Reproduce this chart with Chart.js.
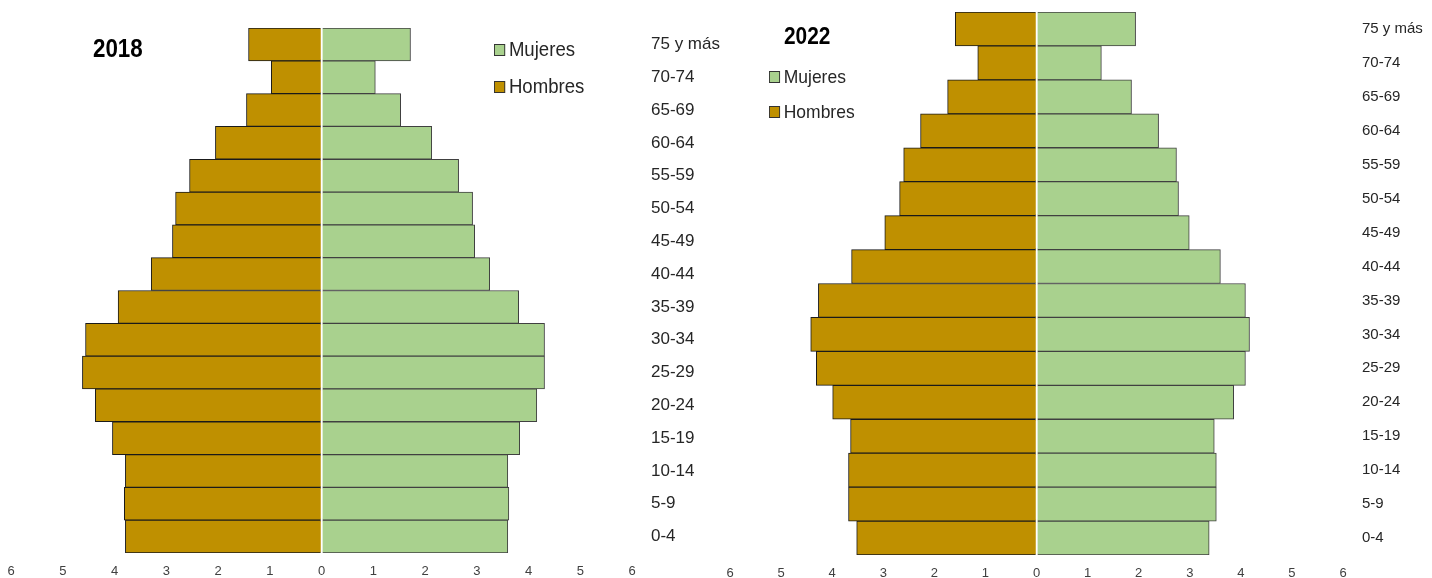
<!DOCTYPE html>
<html lang="es">
<head>
<meta charset="utf-8">
<title>Pirámide de población 2018 - 2022</title>
<script src="https://cdn.jsdelivr.net/npm/chart.js@4.4.1/dist/chart.umd.min.js"></script>
<style>
  body { margin: 0; background: #fff; width: 1432px; height: 578px; overflow: hidden; position: relative;
         font-family: 'Liberation Sans', Arial, sans-serif; }
  canvas { position: absolute; top: 0; }
  .titulo { position: absolute; font-weight: bold; line-height: 30px; color: #000; transform-origin: left center; }
  .leyenda { position: absolute; color: #262626; }
  .leyenda .fila { display: flex; align-items: center; transform-origin: left center; }
  .leyenda .caja { width: 10px; height: 10px; border: 1px solid #333; margin-right: 4px; }
</style>
</head>
<body>
<canvas id="pir2018" width="730" height="578" style="left:0"></canvas>
<canvas id="pir2022" width="716" height="578" style="left:716px"></canvas>
<div class="titulo" style="left:93px; top:33px; font-size:26px; transform:scaleX(0.86)">2018</div>
<div class="titulo" style="left:784px; top:21px; font-size:24px; transform:scaleX(0.87)">2022</div>
<div class="leyenda" id="ley2018" style="left:494px; top:31px; font-size:20px"></div>
<div class="leyenda" id="ley2022" style="left:769px; top:59px; font-size:19px"></div>
<script>
// Grupos de edad (de arriba hacia abajo)
const grupos = ['75 y más', '70-74', '65-69', '60-64', '55-59', '50-54', '45-49', '40-44',
                '35-39', '30-34', '25-29', '20-24', '15-19', '10-14', '5-9', '0-4'];

// Porcentaje de la población por sexo
const hombres2018 = [1.41, 0.97, 1.45, 2.05, 2.55, 2.82, 2.88, 3.29, 3.93, 4.56, 4.62, 4.37, 4.04, 3.79, 3.81, 3.79];
const mujeres2018 = [1.72, 1.04, 1.53, 2.13, 2.65, 2.92, 2.96, 3.25, 3.81, 4.31, 4.31, 4.16, 3.83, 3.60, 3.62, 3.60];
const hombres2022 = [1.59, 1.15, 1.74, 2.27, 2.60, 2.68, 2.97, 3.62, 4.27, 4.42, 4.31, 3.99, 3.64, 3.68, 3.68, 3.52];
const mujeres2022 = [1.94, 1.27, 1.86, 2.39, 2.74, 2.78, 2.99, 3.60, 4.09, 4.17, 4.09, 3.86, 3.48, 3.52, 3.52, 3.38];

// Series y colores de la leyenda
const series = ['Mujeres', 'Hombres'];
const colores = { Mujeres: '#A9D18E', Hombres: '#BF9000' };
const bordes = { Mujeres: '#404040', Hombres: '#1a1a1a' };
const limiteX = 6;

// Leyenda en HTML
function crearLeyenda(id, alto, escala) {
    const cont = document.getElementById(id);
    series.forEach(nombre => {
        const fila = document.createElement('div');
        fila.className = 'fila';
        fila.style.height = alto + 'px';
        fila.style.transform = 'scaleX(' + escala + ')';
        fila.innerHTML = '<span class="caja" style="background:' + colores[nombre] + '"></span>' + nombre;
        cont.appendChild(fila);
    });
}

function crearPiramide(canvasId, hombres, mujeres, cfg) {
    const ctx = document.getElementById(canvasId).getContext('2d');
    return new Chart(ctx, {
        type: 'bar',
        data: {
            labels: grupos,
            datasets: [
                {
                    label: 'Mujeres',
                    data: mujeres,
                    backgroundColor: colores.Mujeres,
                    borderColor: bordes.Mujeres,
                    borderWidth: 1
                },
                {
                    label: 'Hombres',
                    data: hombres.map(v => -v),
                    backgroundColor: colores.Hombres,
                    borderColor: bordes.Hombres,
                    borderWidth: 1
                }
            ]
        },
        options: {
            indexAxis: 'y',
            responsive: false,
            animation: false,
            devicePixelRatio: 1,
            barPercentage: 1,
            categoryPercentage: 1,
            layout: { padding: { left: cfg.padLeft, top: cfg.padTop, right: 0, bottom: 0 } },
            plugins: {
                legend: { display: false },
                tooltip: { enabled: false }
            },
            scales: {
                x: {
                    type: 'linear',
                    stacked: true,
                    min: -limiteX,
                    max: limiteX,
                    border: { display: false },
                    grid: {
                        z: 1,
                        drawTicks: false,
                        lineWidth: 1.5,
                        color: c => (c.tick && c.tick.value === 0) ? '#ffffff' : 'rgba(0,0,0,0)'
                    },
                    ticks: {
                        stepSize: 1,
                        padding: 11,
                        color: '#404040',
                        font: { family: "'Liberation Sans', sans-serif", size: 13 },
                        callback: v => Math.abs(v)
                    },
                    afterFit: s => {
                        s.height = cfg.axisHeight;
                        s.paddingLeft = 0;
                        s.paddingRight = 0;
                    }
                },
                y: {
                    type: 'category',
                    position: 'right',
                    stacked: true,
                    border: { display: false },
                    grid: { display: false, drawTicks: false },
                    ticks: {
                        crossAlign: 'near',
                        padding: 19,
                        color: '#262626',
                        font: { family: "'Liberation Sans', sans-serif", size: cfg.labelSize }
                    },
                    afterFit: s => {
                        s.width = cfg.axisWidth;
                        s.paddingTop = 0;
                        s.paddingBottom = 0;
                    }
                }
            }
        }
    });
}

crearLeyenda('ley2018', 37, 0.93);
crearLeyenda('ley2022', 35, 0.92);

crearPiramide('pir2018', hombres2018, mujeres2018,
    { padLeft: 11, padTop: 28, axisWidth: 98, axisHeight: 25, labelSize: 17 });
crearPiramide('pir2022', hombres2022, mujeres2022,
    { padLeft: 14, padTop: 12, axisWidth: 89, axisHeight: 23, labelSize: 15 });
</script>
</body>
</html>
